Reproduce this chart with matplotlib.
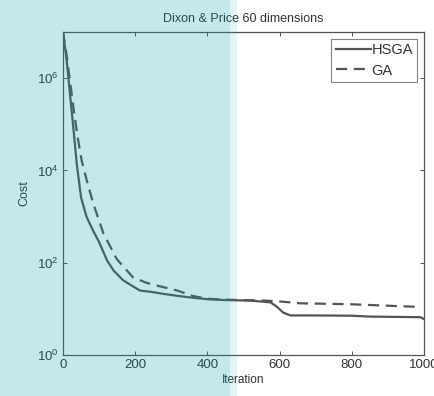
import matplotlib
matplotlib.use('Agg')
import matplotlib.pyplot as plt
from matplotlib.patches import Rectangle
from matplotlib.ticker import LogLocator, NullLocator

plt.rcParams['font.family'] = ['Liberation Sans', 'DejaVu Sans']
plt.rcParams['mathtext.fontset'] = 'custom'
plt.rcParams['mathtext.rm'] = 'Liberation Sans'

# convergence of best cost per iteration
hsga_iter = [0, 5, 10, 19, 29, 38, 50, 65, 83, 100, 122, 140, 166, 190, 213, 250,
             280, 320, 360, 400, 450, 520, 575, 592, 610, 630, 700, 800, 850, 990, 1000]
hsga_cost = [1.0e7, 5.0e6, 2.5e6, 4.8e5, 7.9e4, 1.4e4, 2.6e3, 1.0e3, 500, 280, 112, 68,
             42, 32, 25, 23, 21, 19, 17.4, 16.2, 15.5, 15.1, 13.8, 11.2, 8.3, 7.2, 7.2,
             7.1, 6.8, 6.6, 6.0]

ga_iter = [0, 10, 20, 30, 40, 52, 66, 84, 112, 149, 194, 230, 260, 316, 360, 400,
           450, 500, 560, 600, 656, 795, 900, 990]
ga_cost = [1.0e7, 3.2e6, 7.9e5, 2.0e5, 5.6e4, 1.6e4, 6.0e3, 1.9e3, 430, 120, 48, 37,
           32, 25, 19, 16.6, 15.8, 15.5, 15.1, 14.5, 13.2, 12.6, 11.7, 11.0]

fig = plt.figure(figsize=(4.35, 3.96), dpi=100)
ax = fig.add_axes([63 / 435, 41 / 396, 361 / 435, 323 / 396])

line_col = '#555555'
ax.plot(hsga_iter, hsga_cost, color=line_col, lw=1.6, label='HSGA')
ax.plot(ga_iter, ga_cost, color=line_col, lw=1.6, ls=(0, (5, 3)), label='GA')

ax.set_yscale('log')
ax.set_xlim(0, 1000)
ax.set_ylim(1, 1e7)
ax.set_xticks([0, 200, 400, 600, 800, 1000])
ax.yaxis.set_major_locator(LogLocator(base=100))
ax.yaxis.set_minor_locator(NullLocator())
ax.tick_params(direction='in', top=True, right=True, length=3, width=0.6,
               colors='#333333', labelsize=9.5, pad=3)
for sp in ax.spines.values():
    sp.set_color('#555555')
    sp.set_linewidth(0.9)

ax.set_title('Dixon & Price 60 dimensions', fontsize=9, color='#333333', pad=7)
ax.set_xlabel('Iteration', fontsize=8.5, color='#333333', labelpad=2)
ax.set_ylabel('Cost', fontsize=9, color='#333333', labelpad=5)

leg = ax.legend(loc='upper right', fontsize=10.5, handlelength=2.4, handletextpad=0.05,
                borderpad=0.3, labelspacing=0.45, fancybox=False, borderaxespad=0.45)
leg.get_frame().set_edgecolor('#666666')
leg.get_frame().set_linewidth(0.8)
for t in leg.get_texts():
    t.set_color('#333333')

# highlighter band over the left part of the page
fig.patches.append(Rectangle((0, 0), 230 / 435, 1, transform=fig.transFigure,
                             facecolor=(0.0, 0.634, 0.634), alpha=0.235,
                             edgecolor='none', zorder=10))
fig.patches.append(Rectangle((230 / 435, 0), 7 / 435, 1, transform=fig.transFigure,
                             facecolor=(0.0, 0.634, 0.634), alpha=0.11,
                             edgecolor='none', zorder=10))

fig.savefig('out.png', dpi=100)
